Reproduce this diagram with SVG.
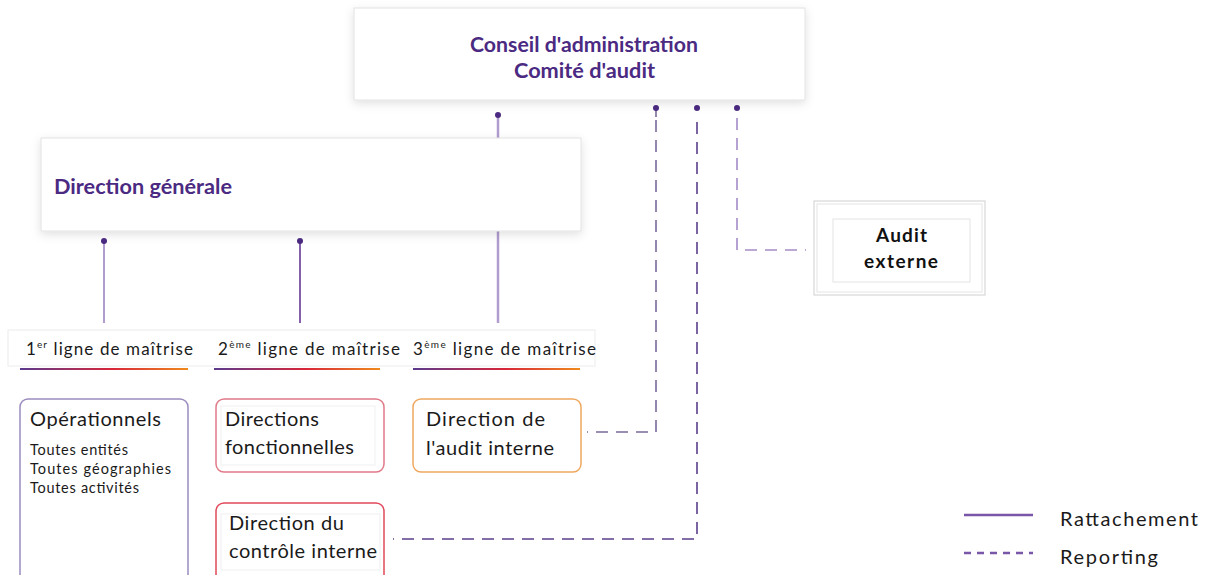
<svg xmlns="http://www.w3.org/2000/svg" width="1216" height="575" viewBox="0 0 1216 575">
<defs>
  <filter id="sh" x="-10%" y="-20%" width="120%" height="150%">
    <feDropShadow dx="0" dy="3" stdDeviation="5" flood-color="#000" flood-opacity="0.12"/>
  </filter>
  <linearGradient id="grad" x1="0" y1="0" x2="1" y2="0">
    <stop offset="0" stop-color="#5b3a8e"/>
    <stop offset="0.55" stop-color="#d8263a"/>
    <stop offset="1" stop-color="#f08a1c"/>
  </linearGradient>
  <style>
    text{font-family:"Lato","Liberation Sans",sans-serif;}
    .title{font-weight:bold;font-size:20px;fill:#4b2a82;}
    .lbl{font-size:20px;fill:#1a1a1a;}
    .sm{font-size:14.5px;fill:#1a1a1a;}
    .hd{font-size:17px;fill:#1a1a1a;}
    .sup{font-size:10px;}
    .ext{font-weight:bold;font-size:19px;fill:#111;}
    .dot{fill:#4b2a82;}
    .dash{fill:none;stroke-width:1.6;stroke-dasharray:12 8;}
  </style>
</defs>
<rect width="1216" height="575" fill="#fff"/>

<g id="connectors">
  <line x1="498" y1="115" x2="498" y2="323" stroke="#b09ccf" stroke-width="2.5"/>
  <circle class="dot" cx="498" cy="115" r="3"/>
  <line x1="104" y1="241" x2="104" y2="323" stroke="#b09ccf" stroke-width="2"/>
  <circle class="dot" cx="104" cy="241" r="3"/>
  <line x1="300" y1="241" x2="300" y2="323" stroke="#5b2d8e" stroke-width="1.5"/>
  <circle class="dot" cx="300" cy="241" r="3"/>
  <line x1="656" y1="108" x2="656" y2="117" stroke="#7a6a99" stroke-width="1.6"/>
  <path class="dash" d="M656 120 V432 H587" stroke="#7a6a99"/>
  <circle class="dot" cx="656" cy="108" r="3"/>
  <path class="dash" d="M697 122 V539 H393" stroke="#5b3f8c"/>
  <circle class="dot" cx="697" cy="108" r="3"/>
  <path class="dash" d="M737 118 V250 H806" stroke="#a58cc8" stroke-dasharray="12 8 12 8 12 8 12 8 12 8 12 8 12 8 12 8 12 6 14 6"/>
  <circle class="dot" cx="737" cy="108" r="3"/>
</g>

<g id="conseil">
  <rect x="354" y="8" width="451" height="92" fill="#fff" stroke="#e2e2e2" filter="url(#sh)"/>
  <text class="title" x="470" y="52" textLength="228" lengthAdjust="spacingAndGlyphs">Conseil d'administration</text>
  <text class="title" x="514" y="78" textLength="141" lengthAdjust="spacingAndGlyphs">Comité d'audit</text>
</g>

<g id="direction-generale">
  <rect x="41" y="138" width="540" height="93" fill="#fff" stroke="#e2e2e2" filter="url(#sh)"/>
  <text class="title" x="54" y="194" textLength="178" lengthAdjust="spacingAndGlyphs">Direction générale</text>
</g>

<g id="headers">
  <rect x="8" y="330" width="587" height="36" fill="#fff" stroke="#ececec"/>
  <text class="hd" x="26" y="355" textLength="167">1<tspan class="sup" dy="-7">er</tspan><tspan dy="7"> ligne de maîtrise</tspan></text>
  <text class="hd" x="218" y="355" textLength="182">2<tspan class="sup" dy="-7">ème</tspan><tspan dy="7"> ligne de maîtrise</tspan></text>
  <text class="hd" x="413" y="355" textLength="183">3<tspan class="sup" dy="-7">ème</tspan><tspan dy="7"> ligne de maîtrise</tspan></text>
  <rect x="20" y="368" width="168" height="2" fill="url(#grad)"/>
  <rect x="214" y="368" width="166" height="2" fill="url(#grad)"/>
  <rect x="413" y="368" width="167" height="2" fill="url(#grad)"/>
</g>

<g id="operationnels">
  <rect x="20" y="399" width="168" height="185" rx="8" fill="#fff" stroke="#9b8cbf" stroke-width="1.5"/>
  <text class="lbl" x="30" y="426" textLength="131">Opérationnels</text>
  <text class="sm" x="30" y="455" textLength="98">Toutes entités</text>
  <text class="sm" x="30" y="474" textLength="141">Toutes géographies</text>
  <text class="sm" x="30" y="493" textLength="109">Toutes activités</text>
</g>

<g id="directions-fonctionnelles">
  <rect x="216" y="399" width="168" height="73" rx="8" fill="#fff" stroke="#e07a88" stroke-width="1.5"/>
  <rect x="221" y="406" width="154" height="59" fill="#fff" stroke="#efefef"/>
  <text class="lbl" x="225" y="426" textLength="94">Directions</text>
  <text class="lbl" x="225" y="454" textLength="129">fonctionnelles</text>
</g>

<g id="audit-interne">
  <rect x="413" y="399" width="168" height="73" rx="8" fill="#fff" stroke="#f0a860" stroke-width="1.5"/>
  <text class="lbl" x="426" y="426" textLength="119">Direction de</text>
  <text class="lbl" x="426" y="455" textLength="128">l'audit interne</text>
</g>

<g id="controle-interne">
  <rect x="216" y="503" width="168" height="80" rx="8" fill="#fff" stroke="#e04a5a" stroke-width="1.5"/>
  <rect x="221" y="514" width="159" height="56" fill="#fff" stroke="#efefef"/>
  <text class="lbl" x="229" y="530" textLength="115">Direction du</text>
  <text class="lbl" x="229" y="558" textLength="148">contrôle interne</text>
</g>

<g id="audit-externe">
  <rect x="814" y="201" width="171" height="94" fill="#fff" stroke="#d0d0d0" stroke-width="1"/>
  <rect x="817" y="204" width="165" height="88" fill="none" stroke="#e4e4e4" stroke-width="1"/>
  <rect x="833" y="219" width="137" height="63" fill="#fff" stroke="#e4e4e4"/>
  <text class="ext" x="876" y="242" textLength="51">Audit</text>
  <text class="ext" x="864" y="268" textLength="74">externe</text>
</g>

<g id="legend">
  <line x1="964" y1="515" x2="1033" y2="515" stroke="#7a56a8" stroke-width="2.5"/>
  <text class="lbl" x="1060" y="526" textLength="138">Rattachement</text>
  <line x1="964" y1="553" x2="1033" y2="553" stroke="#7a56a8" stroke-width="2.5" stroke-dasharray="7 6"/>
  <text class="lbl" x="1060" y="564" textLength="98">Reporting</text>
</g>
</svg>
